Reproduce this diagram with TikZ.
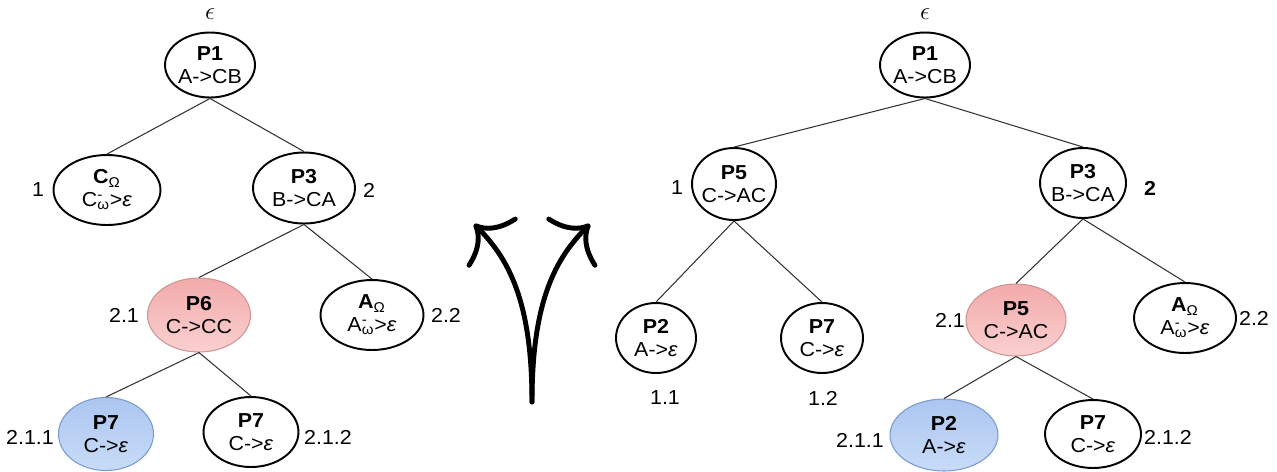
\documentclass[tikz,border=0pt]{standalone}
\usepackage{fontspec}
\setmainfont{Liberation Sans}[FakeStretch=1.06]
\usetikzlibrary{shapes.geometric,arrows.meta}

\definecolor{redtop}{RGB}{242,170,170}
\definecolor{redbot}{RGB}{250,208,208}
\definecolor{redline}{RGB}{205,150,150}
\definecolor{bluetop}{RGB}{172,198,240}
\definecolor{bluebot}{RGB}{200,220,248}
\definecolor{blueline}{RGB}{120,155,205}

\tikzset{
  dims/.style 2 args={minimum width=#1cm, minimum height=#2cm},
  prod/.style={ellipse, draw, line width=1.1pt, inner sep=0pt,
    label={[align=center]center:#1}},
  redprod/.style={prod={#1}, draw=redline, line width=0.6pt, top color=redtop, bottom color=redbot},
  blueprod/.style={prod={#1}, draw=blueline, line width=0.6pt, top color=bluetop, bottom color=bluebot}
}

\begin{document}
\begin{tikzpicture}
        [
        x=0.02cm, y=-0.02cm,
        every node/.style={font=\fontsize{11.5}{13}\selectfont},
        eps/.style={font=\fontsize{15}{15}\selectfont},
        edge/.style={draw=black!80, line width=0.6pt},
        branch/.style={line width=2.8pt, line cap=round, -{Computer Modern Rightarrow[length=16pt,width=40pt]}}
        ]
        \useasboundingbox (0,0) rectangle (1277,471);

        % Left tree: root node
        \node[eps] (eL) at (210,14) {$\epsilon$};
        \node[prod={\textbf{P1}\\A->CB}, dims={1.8}{1.3}] (p1L) at (210,65) {};
        % Level 1
        \node[prod={\textbf{C}\textsubscript{Ω}\\C\rlap{\textsuperscript{-}}\textsubscript{ω}>\textit{ε}},
          dims={2.14}{1.4}] (cL) at (107,190) {};
        \node[prod={\textbf{P3}\\B->CA}, dims={2.04}{1.42}] (p3L) at (304,188) {};
        % Level 2
        \node[redprod={\textbf{P6}\\C->CC}, dims={2.06}{1.48}] (p6L) at (199,315) {};
        \node[prod={\textbf{A}\textsubscript{Ω}\\A\rlap{\textsuperscript{-}}\textsubscript{ω}>\textit{ε}},
          dims={2.06}{1.4}] (aL) at (372,315) {};
        % Level 3
        \node[blueprod={\textbf{P7}\\C->\textit{ε}}, dims={1.9}{1.46}] (p7aL) at (106,434) {};
        \node[prod={\textbf{P7}\\C->\textit{ε}}, dims={1.9}{1.4}] (p7bL) at (251,432) {};

        % Left tree: positions
        \node (n1L) at (38,190) {1};
        \node (n2L) at (369,190) {2};
        \node (n21L) at (124,315) {2.1};
        \node (n22L) at (446,315) {2.2};
        \node (n211L) at (30,437) {2.1.1};
        \node (n212L) at (328,437) {2.1.2};

        \draw[edge] (p1L.south) -- (cL.north);
        \draw[edge] (p1L.south) -- (p3L.north);
        \draw[edge] (p3L.south) -- (p6L.north);
        \draw[edge] (p3L.south) -- (aL.north);
        \draw[edge] (p6L.south) -- (p7aL.north);
        \draw[edge] (p6L.south) -- (p7bL.north);

        % Middle: branching arrow
        \coordinate (stem) at (532,402);
        \coordinate (tipL) at (474,224);
        \coordinate (tipR) at (590,224);
        \draw[branch] (stem) .. controls (532,300) and (508,258) .. (tipL);
        \draw[branch] (stem) .. controls (532,300) and (556,258) .. (tipR);

        % Right tree: root node
        \node[eps] (eR) at (925,14) {$\epsilon$};
        \node[prod={\textbf{P1}\\A->CB}, dims={1.8}{1.3}] (p1R) at (925,65) {};
        % Level 1
        \node[prod={\textbf{P5}\\C->AC}, dims={1.68}{1.44}] (p5R) at (734,184) {};
        \node[prod={\textbf{P3}\\B->CA}, dims={1.72}{1.4}] (p3R) at (1083,183) {};
        % Level 2
        \node[prod={\textbf{P2}\\A->\textit{ε}}, dims={1.6}{1.4}] (p2R) at (656,338) {};
        \node[prod={\textbf{P7}\\C->\textit{ε}}, dims={1.64}{1.4}] (p7R) at (822,338) {};
        \node[redprod={\textbf{P5}\\C->AC}, dims={2.0}{1.44}] (p5bR) at (1016,320) {};
        \node[prod={\textbf{A}\textsubscript{Ω}\\A\rlap{\textsuperscript{-}}\textsubscript{ω}>\textit{ε}},
          dims={2.04}{1.4}] (aR) at (1185,318) {};
        % Level 3
        \node[blueprod={\textbf{P2}\\A->\textit{ε}}, dims={2.16}{1.44}] (p2bR) at (944,435) {};
        \node[prod={\textbf{P7}\\C->\textit{ε}}, dims={1.92}{1.36}] (p7bR) at (1093,434) {};

        % Right tree: positions
        \node (n1R) at (677,188) {1};
        \node (n2R) at (1150,188) {\textbf{2}};
        \node (n11R) at (665,398) {1.1};
        \node (n12R) at (823,398) {1.2};
        \node (n21R) at (950,320) {2.1};
        \node (n22R) at (1254,318) {2.2};
        \node (n211R) at (860,440) {2.1.1};
        \node (n212R) at (1168,437) {2.1.2};

        \draw[edge] (p1R.south) -- (p5R.north);
        \draw[edge] (p1R.south) -- (p3R.north);
        \draw[edge] (p5R.south) -- (p2R.north);
        \draw[edge] (p5R.south) -- (p7R.north);
        \draw[edge] (p3R.south) -- (p5bR.north);
        \draw[edge] (p3R.south) -- (aR.north);
        \draw[edge] (p5bR.south) -- (p2bR.north);
        \draw[edge] (p5bR.south) -- (p7bR.north);
    \end{tikzpicture}
\end{document}
